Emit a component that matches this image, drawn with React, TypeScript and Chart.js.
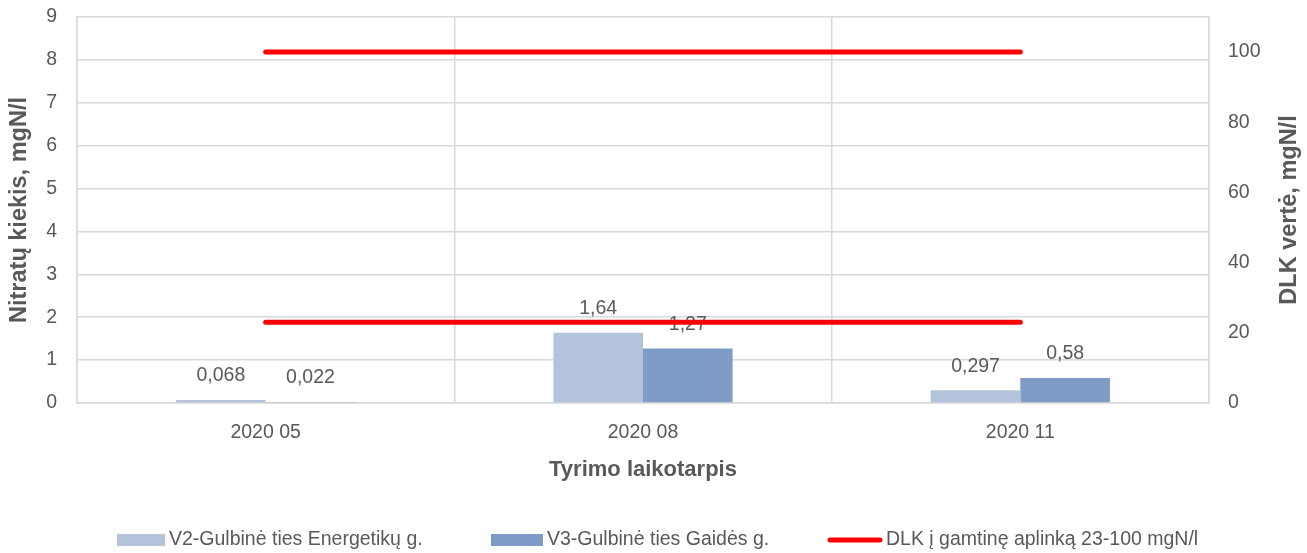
import React, { useEffect, useRef } from 'react';
import { Chart, registerables } from 'chart.js';

Chart.register(...registerables);

const categories = ['2020 05', '2020 08', '2020 11'];
const v2Values = [0.068, 1.64, 0.297];
const v3Values = [0.022, 1.27, 0.58];
const dlkUpper = [100, 100, 100];
const dlkLower = [23, 23, 23];
const leftTicks = [0, 1, 2, 3, 4, 5, 6, 7, 8, 9];
const rightTicks = [0, 20, 40, 60, 80, 100];

const v2Label = 'V2-Gulbinė ties Energetikų g.';
const v3Label = 'V3-Gulbinė ties Gaidės g.';
const dlkLabel = 'DLK į gamtinę aplinką 23-100 mgN/l';
const xTitle = 'Tyrimo laikotarpis';
const yTitle = 'Nitratų kiekis, mgN/l';
const y2Title = 'DLK vertė, mgN/l';

const FONT = '"Liberation Sans", Arial, sans-serif';
const TEXT = '#595959';
const GRID = '#d9d9d9';
const C_V2 = '#b4c3dc';
const C_V3 = '#7f9cc6';
const RED = '#ff0000';
const TICK_SIZE = 19.5;

const CANVAS_W = 1307;
const CANVAS_H = 553;
const PLOT_LEFT = 77;
const PLOT_RIGHT = 1209;
const PLOT_TOP = 17;
const PLOT_BOTTOM = 403;

const barLabels = {
  id: 'barLabels',
  afterDatasetDraw(chart: any, args: any) {
    const meta = args.meta;
    if (meta.type !== 'bar') return;
    const ctx = chart.ctx;
    const ds = chart.data.datasets[args.index];
    ctx.save();
    ctx.font = `${TICK_SIZE}px ${FONT}`;
    ctx.fillStyle = TEXT;
    ctx.textAlign = 'center';
    ctx.textBaseline = 'middle';
    meta.data.forEach((el: any, i: number) => {
      const v = ds.data[i];
      ctx.fillText(String(v).replace('.', ','), el.x, el.y - 24);
    });
    ctx.restore();
  },
};

const titlesAndLegend = {
  id: 'titlesAndLegend',
  afterDraw(chart: any) {
    const ctx = chart.ctx;
    const a = chart.chartArea;
    const midY = (a.top + a.bottom) / 2;
    ctx.save();
    ctx.fillStyle = TEXT;
    ctx.font = `bold 23.5px ${FONT}`;
    ctx.textAlign = 'center';
    ctx.textBaseline = 'middle';
    ctx.save();
    ctx.translate(20, midY);
    ctx.rotate(-Math.PI / 2);
    ctx.fillText(yTitle, 0, 0);
    ctx.restore();
    ctx.save();
    ctx.translate(1290, midY);
    ctx.rotate(-Math.PI / 2);
    ctx.fillText(y2Title, 0, 0);
    ctx.restore();
    ctx.font = `bold 22px ${FONT}`;
    ctx.textBaseline = 'alphabetic';
    ctx.fillText(xTitle, (a.left + a.right) / 2, 476);
    const ly = 540;
    ctx.font = `${TICK_SIZE}px ${FONT}`;
    ctx.textAlign = 'left';
    ctx.textBaseline = 'middle';
    ctx.fillStyle = C_V2;
    ctx.fillRect(117, ly - 6, 48, 12);
    ctx.fillStyle = TEXT;
    ctx.fillText(v2Label, 169, ly);
    ctx.fillStyle = C_V3;
    ctx.fillRect(491, ly - 6, 52, 12);
    ctx.fillStyle = TEXT;
    ctx.fillText(v3Label, 547, ly);
    ctx.strokeStyle = RED;
    ctx.lineWidth = 5;
    ctx.lineCap = 'round';
    ctx.beginPath();
    ctx.moveTo(830, ly);
    ctx.lineTo(880, ly);
    ctx.stroke();
    ctx.fillStyle = TEXT;
    ctx.fillText(dlkLabel, 886, ly);
    ctx.restore();
  },
};

export default function App() {
  const ref = useRef<HTMLCanvasElement>(null);
  useEffect(() => {
    const prevMargin = document.body.style.margin;
    document.body.style.margin = '0';
    const lineDs = (label: string, data: number[]) => ({
      type: 'line',
      label,
      data,
      borderColor: RED,
      backgroundColor: RED,
      borderWidth: 5,
      borderCapStyle: 'round',
      pointRadius: 0,
      yAxisID: 'y2',
      order: 1,
    });
    const chart = new Chart(ref.current as HTMLCanvasElement, {
      type: 'bar',
      data: {
        labels: categories,
        datasets: [
          {
            type: 'bar',
            label: v2Label,
            data: v2Values,
            backgroundColor: C_V2,
            yAxisID: 'y',
            order: 2,
            barPercentage: 1,
            categoryPercentage: 0.475,
          },
          {
            type: 'bar',
            label: v3Label,
            data: v3Values,
            backgroundColor: C_V3,
            yAxisID: 'y',
            order: 2,
            barPercentage: 1,
            categoryPercentage: 0.475,
          },
          lineDs(dlkLabel, dlkUpper),
          lineDs(dlkLabel + ' 23', dlkLower),
        ] as any,
      },
      options: {
        responsive: false,
        animation: false,
        devicePixelRatio: 1,
        layout: { padding: { top: PLOT_TOP, left: 0, right: 0, bottom: 0 } },
        plugins: {
          tooltip: { enabled: false },
          legend: { display: false },
        },
        scales: {
          x: {
            grid: { offset: true, drawTicks: false, color: GRID, lineWidth: 1.5 },
            border: { display: true, color: GRID, width: 1.5 },
            ticks: { padding: 18, color: TEXT, font: { family: FONT, size: TICK_SIZE } },
            afterFit(s: any) {
              s.height = CANVAS_H - PLOT_BOTTOM;
              s.paddingLeft = 0;
              s.paddingRight = 0;
            },
          },
          y: {
            position: 'left',
            min: 0,
            max: 9,
            afterBuildTicks(s: any) {
              s.ticks = leftTicks.map((v) => ({ value: v }));
            },
            ticks: { autoSkip: false, padding: 20, color: TEXT, font: { family: FONT, size: TICK_SIZE } },
            grid: { drawTicks: false, color: GRID, lineWidth: 1.5 },
            border: { display: true, color: GRID, width: 1.5 },
            afterFit(s: any) {
              s.width = PLOT_LEFT;
              s.paddingTop = 0;
              s.paddingBottom = 0;
            },
          },
          y2: {
            position: 'right',
            min: 0,
            max: 110,
            afterBuildTicks(s: any) {
              s.ticks = rightTicks.map((v) => ({ value: v }));
            },
            ticks: { autoSkip: false, padding: 19, color: TEXT, font: { family: FONT, size: TICK_SIZE } },
            grid: { display: false, drawTicks: false },
            border: { display: true, color: GRID, width: 1.5 },
            afterFit(s: any) {
              s.width = CANVAS_W - PLOT_RIGHT;
              s.paddingTop = 0;
              s.paddingBottom = 0;
            },
          },
        },
      } as any,
      plugins: [barLabels, titlesAndLegend],
    });
    return () => {
      chart.destroy();
      document.body.style.margin = prevMargin;
    };
  }, []);

  return (
    <div style={{ width: CANVAS_W, height: CANVAS_H, overflow: 'hidden' }}>
      <canvas
        ref={ref}
        width={CANVAS_W}
        height={CANVAS_H}
        style={{ display: 'block', width: CANVAS_W, height: CANVAS_H }}
      />
    </div>
  );
}
